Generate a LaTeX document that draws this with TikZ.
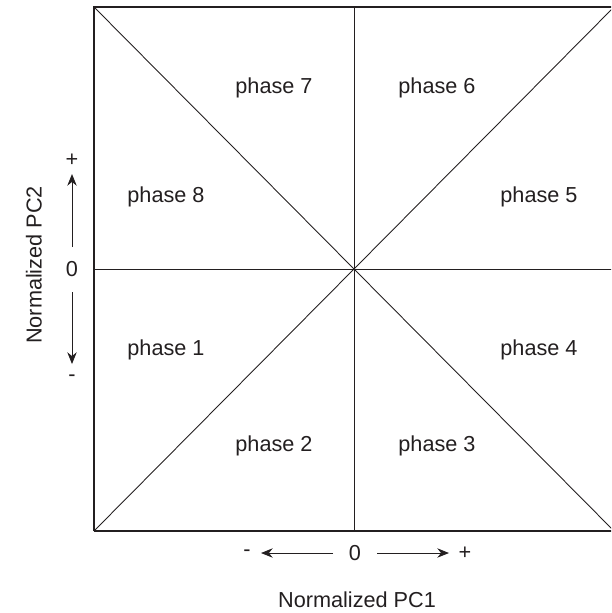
\documentclass[tikz,border=0pt]{standalone}
\usepackage{fontspec}
\setmainfont{Liberation Sans}
\usetikzlibrary{arrows.meta}
\definecolor{ink}{RGB}{35, 31, 32}

\begin{document}
\begin{tikzpicture}[x=0.03cm, y=-0.03cm,
    every node/.style={text=ink, font=\fontsize{18.5}{22}\selectfont},
    frame/.style={draw=ink, line width=1.2pt},
    split/.style={draw=ink, line width=0.75pt},
    axisarrow/.style={draw=ink, line width=0.8pt, -{Stealth[length=10pt, width=8pt]}}]
  \useasboundingbox (0, 0) rectangle (611, 613);
  \clip (0, 0) rectangle (611, 613);

  % quadrant frame
  \coordinate (tl) at (94, 7);
  \coordinate (tr) at (614, 7);
  \coordinate (br) at (614, 531);
  \coordinate (bl) at (94, 531);
  \coordinate (o) at (354, 269);
  \draw[split] (tl) -- (br);
  \draw[split] (tr) -- (bl);
  \draw[split] (354, 7) -- (354, 531);
  \draw[split] (94, 269) -- (614, 269);
  \draw[frame] (bl) -- (tl) -- (tr);
  \draw[frame] (bl) -- (br);

  % phase labels
  \foreach \n/\x/\y in {1/166/350, 2/274/446, 3/437/446, 4/539/350,
                        5/539/197, 6/437/88, 7/274/88, 8/166/197} {
    \node (p\n) at (\x, \y) {phase \n};
  }

  % PC2 axis
  \node (ylab) at (34, 265) [rotate=90] {Normalized PC2};
  \node (yzero) at (72, 269) {0};
  \node (yplus) at (72, 160) {+};
  \node (yminus) at (72, 378) {-};
  \coordinate (yup) at (72, 174);
  \coordinate (ydown) at (72, 364);
  \draw[axisarrow] (72, 247) -- (yup);
  \draw[axisarrow] (72, 292) -- (ydown);

  % PC1 axis
  \node (xlab) at (357, 600) {Normalized PC1};
  \node (xzero) at (355, 553) {0};
  \node (xminus) at (247, 553) {-};
  \node (xplus) at (465, 553) {+};
  \coordinate (xleft) at (261, 553);
  \coordinate (xright) at (449, 553);
  \draw[axisarrow] (333, 553) -- (xleft);
  \draw[axisarrow] (377, 553) -- (xright);

\end{tikzpicture}
\end{document}
